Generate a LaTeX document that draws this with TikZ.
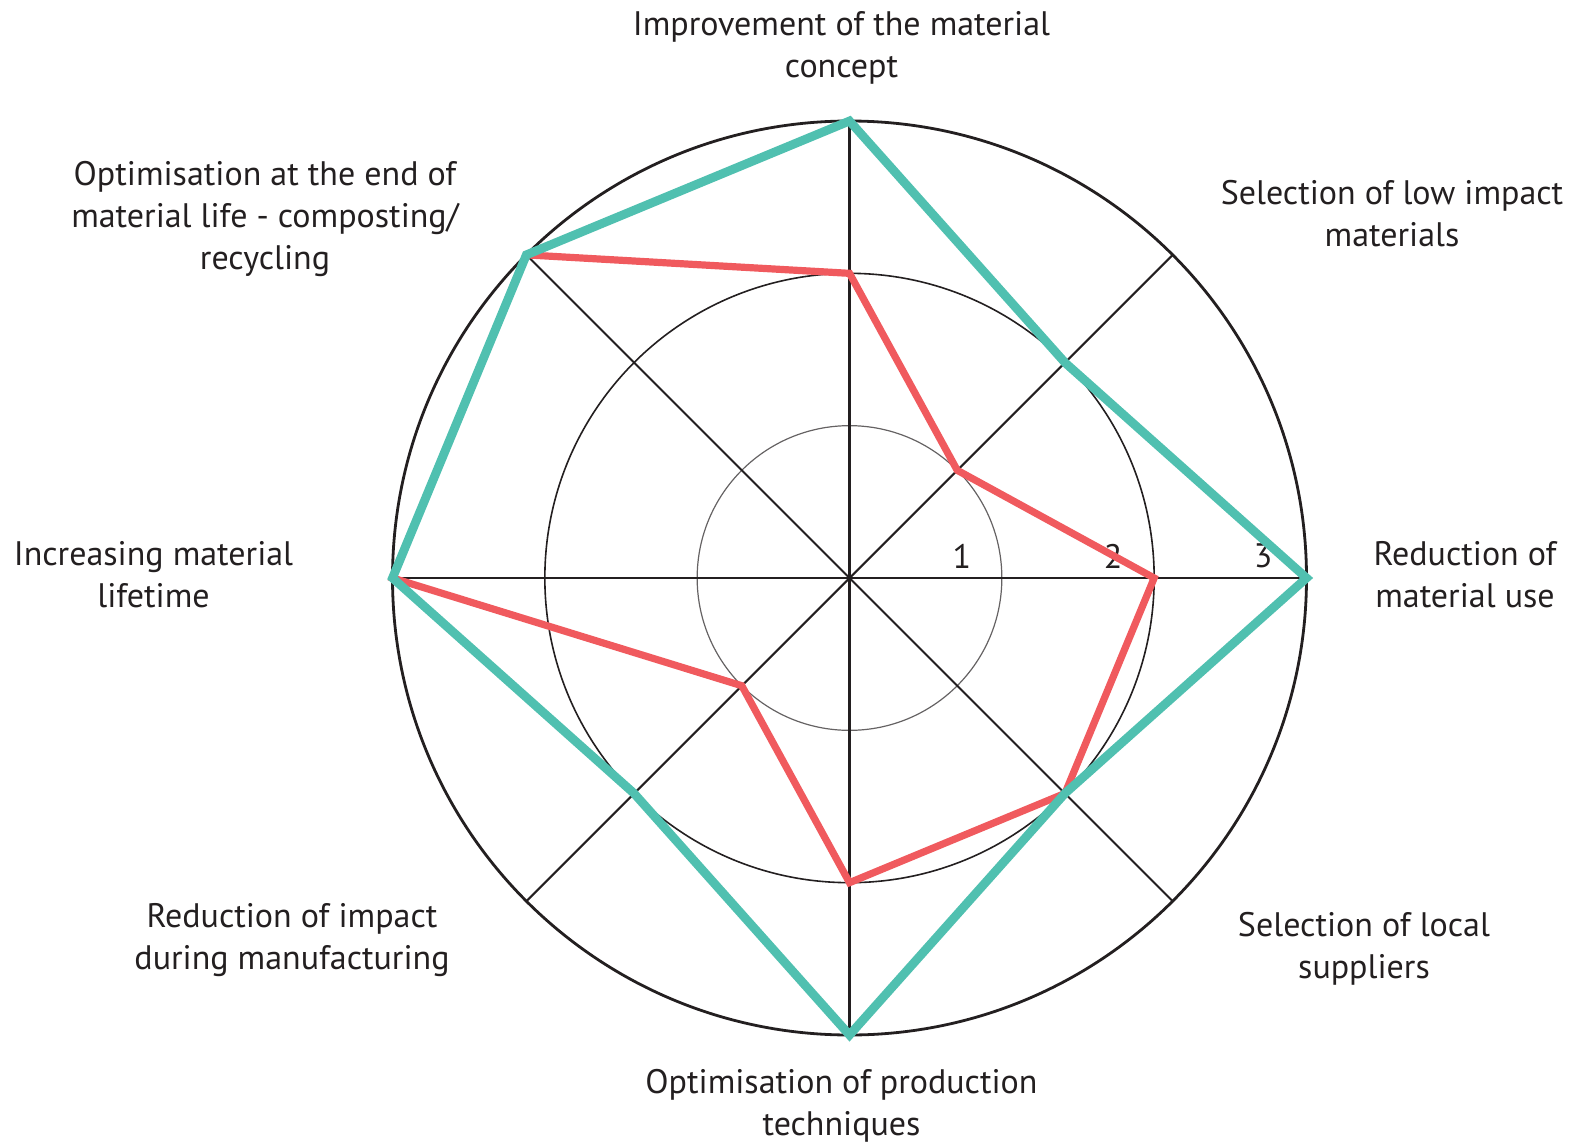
\documentclass[tikz,border=0pt]{standalone}
\usepackage{fontspec}
\setmainfont{PT Sans}
\usetikzlibrary{calc}
\definecolor{tealline}{RGB}{80,192,176}
\definecolor{redline}{RGB}{240,90,94}
\definecolor{ink}{RGB}{35,31,32}
\begin{document}
\begin{tikzpicture}[x=0.5pt,y=-0.5pt,
  lbl/.style={font=\fontsize{17}{21}\selectfont, align=center, inner sep=0pt, text=ink},
  num/.style={font=\fontsize{17}{21}\selectfont, inner sep=0pt, text=ink},
  spoke/.style={draw=ink, line width=1.05pt},
  ring/.style={draw=ink, line width=0.8pt},
  series/.style={line width=#1, line join=miter, miter limit=10}]
\useasboundingbox (0,0) rectangle (1584,1145);
\coordinate (O) at (849.5,578);
% rings
\draw[draw=ink!70, line width=0.6pt] (O) circle[radius=76.17pt];
\draw[ring] (O) circle[radius=152.33pt];
% spokes
\foreach \a/\n in {90/A,45/B,0/C,-45/D,-90/E,-135/F,180/G,135/H}{
  \coordinate (\n) at ($(O)+(\a:228.5pt)$);
  \draw[spoke] (O) -- (\n);
}
\draw[draw=ink, line width=1.4pt] (O) circle[radius=228.5pt];
% numbers
\node[num] (n1) at (962,556) {1};
\node[num] (n2) at (1113,556) {2};
\node[num] (n3) at (1263,556) {3};
% red series
\draw[redline, series=3.6pt]
  ($(O)+(90:152.33pt)$) -- ($(O)+(45:76.17pt)$) -- ($(O)+(0:152.33pt)$) --
  ($(O)+(-45:152.33pt)$) -- ($(O)+(-90:152.33pt)$) -- ($(O)+(-135:76.17pt)$) --
  (G) -- (H) -- cycle;
% teal series
\draw[tealline, series=4.4pt]
  (A) -- ($(O)+(45:152.33pt)$) -- (C) -- ($(O)+(-45:152.33pt)$) -- (E) --
  ($(O)+(-135:152.33pt)$) -- (G) -- (H) -- cycle;
% labels
\node[lbl] (lA) at (841.5,48) {Improvement of the material\\concept};
\node[lbl] (lB) at (1392,214) {Selection of low impact\\materials};
\node[lbl] (lC) at (1465,575) {Reduction of\\material use};
\node[lbl] (lD) at (1364,949) {Selection of local\\suppliers};
\node[lbl] (lE) at (841.5,1106) {Optimisation of production\\techniques};
\node[lbl] (lF) at (292,940) {Reduction of impact\\during manufacturing};
\node[lbl] (lG) at (153.5,575) {Increasing material\\lifetime};
\node[lbl] (lH) at (265,219) {Optimisation at the end of\\material life - composting/\\recycling};
\end{tikzpicture}
\end{document}
